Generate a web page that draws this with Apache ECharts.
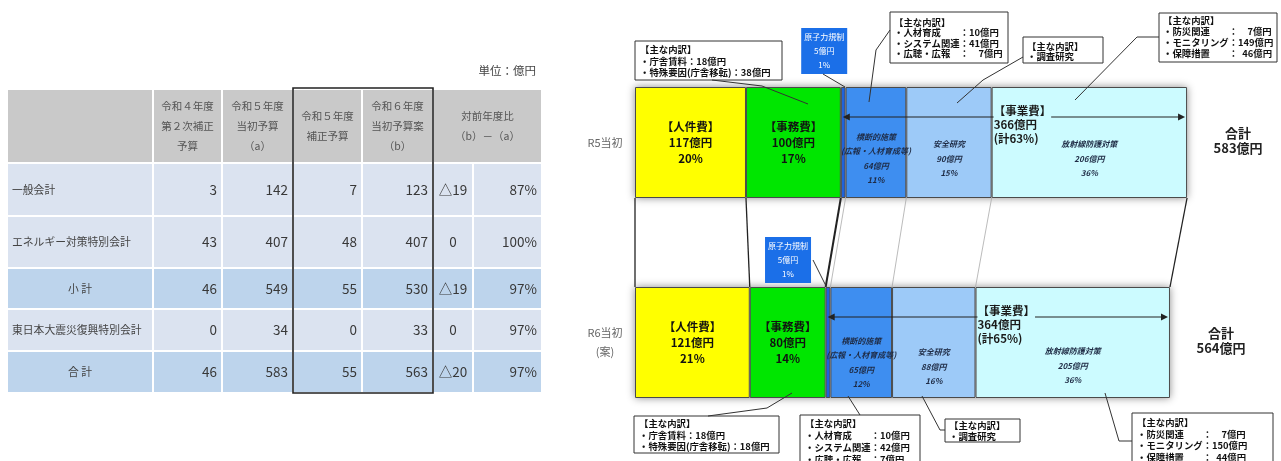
<!DOCTYPE html>
<html><head><meta charset="utf-8">
<script src="https://cdn.jsdelivr.net/npm/echarts@6/dist/echarts.min.js"></script>
<style>html,body{margin:0;padding:0;background:#fff}#c{width:1281px;height:461px}</style>
</head><body><div id="c"></div>
<script>
// ================= DATA =================
// --- table ---
const unitLabel = '単位：億円';
const tableHeaders = ['', '令和４年度\n第２次補正\n予算', '令和５年度\n当初予算\n（a）', '令和５年度\n補正予算', '令和６年度\n当初予算案\n（b）', '対前年度比\n（b）－（a）'];
const tableRowLabels = ['一般会計', 'エネルギー対策特別会計', '小 計', '東日本大震災復興特別会計', '合 計'];
const r4Supplementary = [3, 43, 46, 0, 46];
const r5Initial = [142, 407, 549, 34, 583];
const r5Supplementary = [7, 48, 55, 0, 55];
const r6Initial = [123, 407, 530, 33, 563];
const diffBA = ['△19', '0', '△19', '0', '△20'];
const ratioBA = ['87%', '100%', '97%', '97%', '97%'];

// --- stacked bars ---
const barCategories = ['R5当初', 'R6当初\n(案)'];
const personnelCost = [117, 121];      // 人件費
const officeCost = [100, 80];          // 事務費
const regulationCost = [5, 5];         // 原子力規制
const crossCutting = [64, 65];         // 横断的施策
const safetyResearch = [90, 88];       // 安全研究
const radiationProtection = [206, 205];// 放射線防護対策
const personnelPct = [20, 21];
const officePct = [17, 14];
const regulationPct = [1, 1];
const crossPct = [11, 12];
const safetyPct = [15, 16];
const radiationPct = [36, 36];
const projectTotal = [366, 364];
const projectPct = [63, 65];
const grandTotal = [583, 564];

// --- breakdown notes (callout texts) ---
const notesOfficeR5 = ['【主な内訳】', '・庁舎賃料：18億円', '・特殊要因(庁舎移転)：38億円'];
const notesCrossR5 = ['【主な内訳】', '・人材育成　　：10億円', '・システム関連：41億円', '・広聴・広報　：　7億円'];
const notesSafetyR5 = ['【主な内訳】', '・調査研究'];
const notesRadiationR5 = ['【主な内訳】', '・防災関連　　：　7億円', '・モニタリング：149億円', '・保障措置　　：  46億円'];
const notesOfficeR6 = ['【主な内訳】', '・庁舎賃料：18億円', '・特殊要因(庁舎移転)：18億円'];
const notesCrossR6 = ['【主な内訳】', '・人材育成　　：10億円', '・システム関連：42億円', '・広聴・広報　：7億円'];
const notesSafetyR6 = ['【主な内訳】', '・調査研究'];
const notesRadiationR6 = ['【主な内訳】', '・防災関連　　：　7億円', '・モニタリング：150億円', '・保障措置　　：  44億円'];

// ================= LAYOUT / STYLE =================
const FONT = '"Noto Sans CJK JP", "Noto Sans", sans-serif';
const colEdges = [0, 146, 215, 286, 355, 426, 466, 535];
const rowEdges = [0, 74, 127, 179, 220, 262, 304];
const BAR_W = 111;

const cells = [];
const headerSpans = [[0,1],[1,2],[2,3],[3,4],[4,5],[5,7]];
tableHeaders.forEach((t, i) => cells.push({c0: headerSpans[i][0], c1: headerSpans[i][1], r: 0, text: t, kind: 'header'}));
tableRowLabels.forEach((lab, r) => {
  const row = r + 1;
  const strong = (r === 2 || r === 4);
  cells.push({c0:0, c1:1, r: row, text: lab, kind: strong ? 'labelC' : 'label', strong});
  [r4Supplementary, r5Initial, r5Supplementary, r6Initial].forEach((arr, k) =>
    cells.push({c0:k+1, c1:k+2, r: row, text: String(arr[r]), kind:'num', strong}));
  cells.push({c0:5, c1:6, r: row, text: diffBA[r], kind:'numC', strong});
  cells.push({c0:6, c1:7, r: row, text: ratioBA[r], kind:'num', strong});
});

function renderCell(params, api) {
  const cell = cells[params.dataIndex];
  const p0 = api.coord([colEdges[cell.c0], rowEdges[cell.r]]);
  const p1 = api.coord([colEdges[cell.c1], rowEdges[cell.r + 1]]);
  const x0 = p0[0] + 1, y0 = p0[1] + 1, x1 = p1[0] - 1, y1 = p1[1] - 1;
  const bg = cell.kind === 'header' ? '#c9c9c9' : (cell.strong ? '#bdd4ec' : '#dbe3f0');
  let tx, align, fs, fill, lh;
  if (cell.kind === 'header') { tx = (x0+x1)/2; align='center'; fs=10.5; fill='#555'; lh=20; }
  else if (cell.kind === 'label') { tx = x0 + 4; align='left'; fs=10.8; fill='#444'; lh=14; }
  else if (cell.kind === 'labelC') { tx = (x0+x1)/2; align='center'; fs=10.8; fill='#444'; lh=14; }
  else if (cell.kind === 'numC') { tx = (x0+x1)/2; align='center'; fs=13.5; fill='#383838'; lh=16; }
  else { tx = x1 - 4; align='right'; fs=13.5; fill='#383838'; lh=16; }
  return {type:'group', children:[
    {type:'rect', shape:{x:x0, y:y0, width:x1-x0, height:y1-y0}, style:{fill:bg}},
    {type:'text', style:{text: cell.text, x: tx, y: (y0+y1)/2, align, verticalAlign:'middle',
      fontSize: fs, fontFamily: FONT, fill, lineHeight: lh}}
  ]};
}

const segDefs = [
  {name:'人件費', vals: personnelCost, pct: personnelPct, color:'#ffff00', kind:'main', head:'【人件費】'},
  {name:'事務費', vals: officeCost, pct: officePct, color:'#00e600', kind:'main', head:'【事務費】'},
  {name:'原子力規制', vals: regulationCost, pct: regulationPct, color:'#1f62dc', kind:'box', head:'原子力規制', offsets:[[-19,-8],[-40,1]]},
  {name:'横断的施策', vals: crossCutting, pct: crossPct, color:'#3e8ef0', kind:'sub', head:'横断的施策\n(広報・人材育成等)', offsets:[[0,16],[0,20]]},
  {name:'安全研究', vals: safetyResearch, pct: safetyPct, color:'#9dcaf8', kind:'sub', head:'安全研究', offsets:[[0,16],[0,24]]},
  {name:'放射線防護対策', vals: radiationProtection, pct: radiationPct, color:'#ccfbff', kind:'sub', head:'放射線防護対策', offsets:[[0,16],[0,23]]}
];
function cumAt(bar, k) { let s = 0; for (let i = 0; i < k; i++) s += segDefs[i].vals[bar]; return s; }

const barSeries = segDefs.map(sd => {
  let label;
  if (sd.kind === 'main') {
    label = {show:true, position:'inside', fontSize:11.5, fontWeight:'bold', lineHeight:16, color:'#111', fontFamily: FONT};
  } else if (sd.kind === 'box') {
    label = {show:true, position:'top', distance:5, fontSize:8, lineHeight:14, color:'#fff', fontFamily: FONT,
      backgroundColor:'#1b6fe8', padding:[2,3,2,3], align:'center'};
  } else {
    label = {show:true, position:'inside', fontSize:8, fontStyle:'italic', fontWeight:'bold', lineHeight:14.5, color:'#1e2b45', fontFamily: FONT};
  }
  label.formatter = p => `${sd.head}\n${p.value}億円\n${sd.pct[p.dataIndex]}%`;
  return {
    type:'bar', name: sd.name, stack:'total', xAxisIndex:1, yAxisIndex:1, barWidth: BAR_W, z:2,
    itemStyle:{color: sd.color, borderColor:'#4a4a4a', borderWidth:1},
    label,
    data: sd.vals.map((v, i) => sd.offsets ? {value: v, label: {offset: sd.offsets[i]}} : v)
  };
});

const connectorStyles = [
  {c:'#222', w:1.3}, {c:'#222', w:1.3}, {c:'#222', w:2}, {c:'#aaa', w:0.8},
  {c:'#aaa', w:0.8}, {c:'#aaa', w:0.8}, {c:'#222', w:1.3}
];

function calloutGraphics(x, y, w, h, lines, tx, ty, lh, leader) {
  return [
    {type:'rect', z:100, shape:{x, y, width:w, height:h}, style:{fill:'#fff', stroke:'#333', lineWidth:1}},
    {type:'text', z:101, x: tx, y: ty, style:{text: lines.join('\n'), fontSize:9.4, lineHeight: lh, fontFamily: FONT, fill:'#111', fontWeight:'bold'}},
    {type:'polyline', z:100, shape:{points: leader}, style:{stroke:'#333', lineWidth:1, fill:null}}
  ];
}
const graphics = [].concat(
  calloutGraphics(635, 41, 147, 39, notesOfficeR5, 640, 44, 11.5, [[712,80],[762,86],[808,104]]),
  calloutGraphics(890, 12, 118, 51, notesCrossR5, 894, 17, 10.4, [[890,30],[876,50],[869,102]]),
  calloutGraphics(1023, 37, 80, 26, notesSafetyR5, 1027, 41, 10, [[1023,57],[983,80],[957,103]]),
  calloutGraphics(1159, 13, 118, 49, notesRadiationR5, 1163, 15, 11, [[1159,37],[1137,37],[1075,100]]),
  calloutGraphics(634, 416, 145, 37, notesOfficeR6, 639, 418, 11.5, [[708,416],[767,408],[792,393]]),
  calloutGraphics(800, 415, 120, 60, notesCrossR6, 805, 417, 12, [[860,415],[848,396]]),
  calloutGraphics(945, 419, 75, 23, notesSafetyR6, 949, 420, 11, [[945,430],[940,430],[922,396]]),
  calloutGraphics(1132, 413, 141, 60, notesRadiationR6, 1137, 417, 11.5, [[1132,441],[1119,441],[1105,393]]),
  [
    {type:'polyline', z:100, shape:{points:[[823,74],[845,87]]}, style:{stroke:'#333', lineWidth:1, fill:null}},
    {type:'polyline', z:100, shape:{points:[[813,260],[826,286]]}, style:{stroke:'#333', lineWidth:1, fill:null}}
  ]
);

const option = {
  animation: false,
  backgroundColor: '#fff',
  title: {text: unitLabel, right: 745, top: 65, padding: 0,
    textStyle: {fontSize: 11.5, fontWeight: 'normal', color: '#444', fontFamily: FONT}},
  grid: [
    {left: 7, top: 89, width: 535, height: 304, outerBoundsMode: 'none'},
    {left: 635, top: 42.5, width: 553, height: 400, outerBoundsMode: 'none'}
  ],
  xAxis: [
    {type:'value', gridIndex:0, min:0, max:535, show:false},
    {type:'value', gridIndex:1, min:0, max:583, show:false}
  ],
  yAxis: [
    {type:'value', gridIndex:0, min:0, max:304, inverse:true, show:false},
    {type:'category', gridIndex:1, data: barCategories, inverse:true,
      axisLine:{show:false}, axisTick:{show:false}, splitLine:{show:false},
      axisLabel:{color:'#666', fontSize:11, align:'center', margin:30, lineHeight:19, fontFamily: FONT}}
  ],
  series: [
    {type:'custom', xAxisIndex:0, yAxisIndex:0, silent:true, clip:false, z:1,
      data: cells.map((c, i) => [colEdges[c.c0], rowEdges[c.r]]), renderItem: renderCell},
    {type:'custom', xAxisIndex:0, yAxisIndex:0, silent:true, clip:false, z:3,
      data: [[colEdges[3], 0]],
      renderItem: (p, api) => {
        const a = api.coord([colEdges[3], rowEdges[0]]);
        const b = api.coord([colEdges[5], rowEdges[6]]);
        return {type:'rect', shape:{x:a[0], y:a[1]-1, width:b[0]-a[0], height:b[1]-a[1]+1},
          style:{fill:null, stroke:'#222', lineWidth:1.6}};
      }},
    // bar shadow
    {type:'custom', xAxisIndex:1, yAxisIndex:1, silent:true, clip:false, z:1,
      data: barCategories.map((c, j) => [cumAt(j, segDefs.length), j]),
      renderItem: (p, api) => {
        const j = p.dataIndex;
        const a = api.coord([0, j]); const b = api.coord([cumAt(j, segDefs.length), j]);
        return {type:'rect', shape:{x:a[0], y:a[1]-BAR_W/2, width:b[0]-a[0], height:BAR_W},
          style:{fill:'#fff', shadowBlur:8, shadowColor:'rgba(0,0,0,0.45)'}};
      }},
    ...barSeries,
    // connectors between bars
    {type:'custom', xAxisIndex:1, yAxisIndex:1, silent:true, clip:false, z:3,
      data: connectorStyles.map((s, k) => [cumAt(0, k), 0]),
      renderItem: (p, api) => {
        const k = p.dataIndex;
        const a = api.coord([cumAt(0, k), 0]); const b = api.coord([cumAt(1, k), 1]);
        const s = connectorStyles[k];
        return {type:'line', shape:{x1:a[0], y1:a[1]+BAR_W/2, x2:b[0], y2:b[1]-BAR_W/2},
          style:{stroke:s.c, lineWidth:s.w}};
      }},
    // 事業費 arrows + text
    {type:'custom', xAxisIndex:1, yAxisIndex:1, silent:true, clip:false, z:4,
      data: barCategories.map((c, j) => [cumAt(j, 2), j]),
      renderItem: (p, api) => {
        const j = p.dataIndex;
        const s = api.coord([cumAt(j, 2), j]);
        const e = api.coord([cumAt(j, segDefs.length), j]);
        const t = api.coord([cumAt(j, 5), j]);
        const top = s[1] - BAR_W/2;
        const ay = top + 30;
        const xs = s[0] + 2, xe = e[0] - 2;
        return {type:'group', children:[
          {type:'line', shape:{x1:xs+5, y1:ay, x2:xe-5, y2:ay}, style:{stroke:'#222', lineWidth:1.2}},
          {type:'polygon', shape:{points:[[xs,ay],[xs+7,ay-3.5],[xs+7,ay+3.5]]}, style:{fill:'#222'}},
          {type:'polygon', shape:{points:[[xe,ay],[xe-7,ay-3.5],[xe-7,ay+3.5]]}, style:{fill:'#222'}},
          {type:'text', style:{text:`【事業費】\n${projectTotal[j]}億円\n(計${projectPct[j]}%)`,
            x: t[0] + 2, y: top + 17, align:'left', verticalAlign:'top', fontSize:11.5, fontWeight:'bold', lineHeight:13.8,
            fill:'#1a1a1a', fontFamily: FONT, backgroundColor:'#ccfbff'}}
        ]};
      }},
    // totals
    {type:'custom', xAxisIndex:1, yAxisIndex:1, silent:true, clip:false, z:4,
      data: grandTotal.map((g, j) => [cumAt(j, segDefs.length), j]),
      renderItem: (p, api) => {
        const j = p.dataIndex;
        const e = api.coord([cumAt(j, segDefs.length), j]);
        return {type:'text', style:{text:`合計\n${grandTotal[j]}億円`, x: e[0] + 51, y: e[1] - 2,
          align:'center', verticalAlign:'middle', fontSize:13, fontWeight:'bold', lineHeight:15,
          fill:'#222', fontFamily: FONT}};
      }}
  ],
  graphic: graphics
};

const chart = echarts.init(document.getElementById('c'), null, {renderer:'canvas'});
chart.setOption(option);
</script>
</body></html>
